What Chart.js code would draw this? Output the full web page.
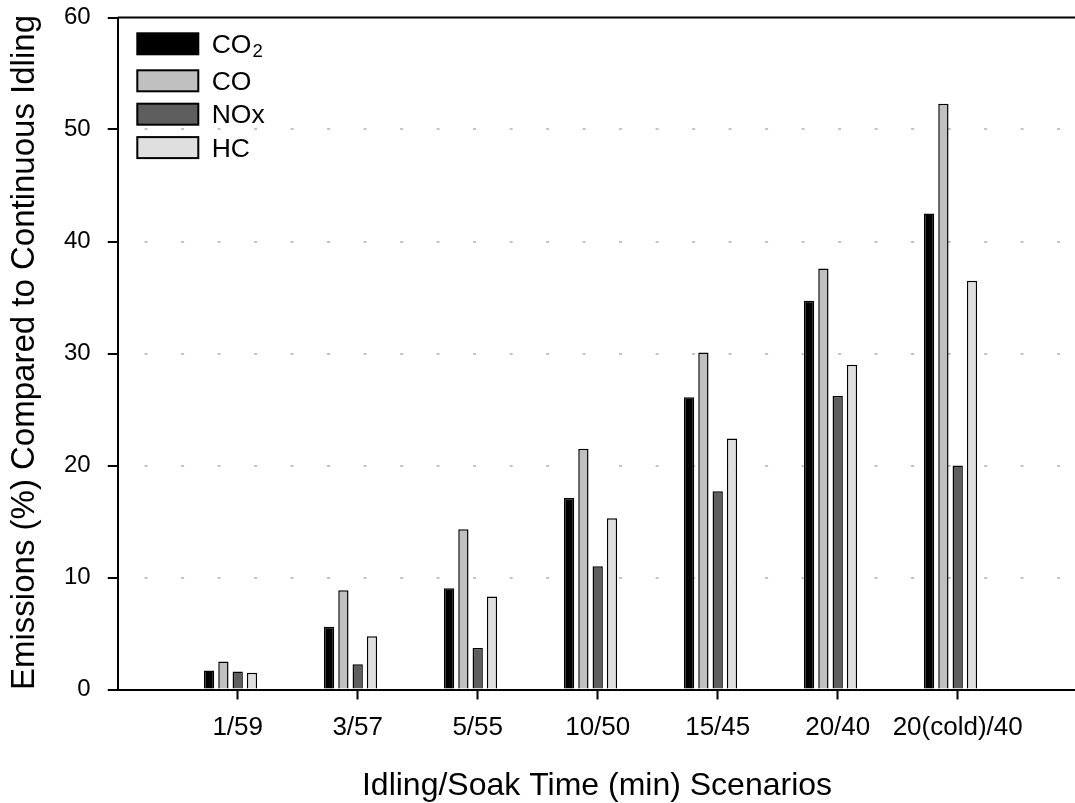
<!DOCTYPE html>
<html>
<head>
<meta charset="utf-8">
<script src="https://cdn.jsdelivr.net/npm/chart.js@4.4.1/dist/chart.umd.min.js"></script>
<style>
  html, body { margin: 0; padding: 0; background: #ffffff; }
  #wrap { width: 1075px; height: 803px; position: relative; }
</style>
</head>
<body>
<div id="wrap"><canvas id="c" width="1075" height="803"></canvas></div>
<script>
// Idling / soak scenarios and emissions relative to continuous idling (%)
const scenarios = ['1/59', '3/57', '5/55', '10/50', '15/45', '20/40', '20(cold)/40'];
const co2 = [1.7, 5.6, 9.05, 17.1, 26.1, 34.7, 42.5];
const co  = [2.5, 8.87, 14.3, 21.5, 30.1, 37.6, 52.3];
const nox = [1.6, 2.26, 3.7, 11.0, 17.7, 26.2, 20.0];
const hc  = [1.5, 4.76, 8.3, 15.3, 22.4, 29.0, 36.5];

// Series names: text after "_" is drawn as a subscript
const seriesNames  = ['CO_2', 'CO', 'NOx', 'HC'];
const seriesColors = ['#000000', '#c0c0c0', '#5e5e5e', '#dfdfdf'];
const seriesValues = [co2, co, nox, hc];

const yMin = 0, yMax = 60, yStep = 10;
const xTitle = 'Idling/Soak Time (min) Scenarios';
const yTitle = 'Emissions (%) Compared to Continuous Idling';

const FONT = '"Liberation Sans", Arial, Helvetica, sans-serif';

const datasets = seriesValues.map((vals, k) => ({
  label: seriesNames[k].replace('_', ''),
  data: vals.map((v, i) => ({ x: i + 1, y: v })),
  backgroundColor: seriesColors[k],
  borderColor: '#000000',
  borderWidth: 1.5,
  borderSkipped: 'start'
}));
// empty fifth slot in each group, so the group sits like the original layout
datasets.push({
  label: '',
  data: scenarios.map((_, i) => ({ x: i + 1, y: null })),
  backgroundColor: 'rgba(0,0,0,0)',
  borderWidth: 0
});

const decor = {
  id: 'decor',
  afterDraw(chart) {
    const { ctx, chartArea } = chart;
    const W = chart.width;
    ctx.save();
    // top frame line
    ctx.strokeStyle = '#000';
    ctx.lineWidth = 2;
    ctx.beginPath();
    ctx.moveTo(chartArea.left, chartArea.top);
    ctx.lineTo(W, chartArea.top);
    ctx.stroke();

    // legend
    const bx = 137.3, bw = 61, bh = 21, tx = 211.7;
    let cy = 43.8;
    seriesNames.forEach((name, k) => {
      const parts = name.split('_');
      ctx.fillStyle = seriesColors[k];
      ctx.fillRect(bx, cy - bh / 2, bw, bh);
      ctx.strokeStyle = '#000';
      ctx.lineWidth = 2;
      ctx.strokeRect(bx, cy - bh / 2, bw, bh);
      ctx.fillStyle = '#000';
      ctx.font = '26.5px ' + FONT;
      ctx.textAlign = 'left';
      ctx.textBaseline = 'alphabetic';
      const base = cy + 9;
      ctx.fillText(parts[0], tx, base);
      if (parts[1]) {
        const w = ctx.measureText(parts[0]).width;
        ctx.font = '18.5px ' + FONT;
        ctx.fillText(parts[1], tx + w + 1, base + 4);
      }
      cy += 33.4 + (parts[1] ? 3.6 : 0);
    });

    // axis titles
    ctx.fillStyle = '#000';
    ctx.font = '32px ' + FONT;
    ctx.textAlign = 'center';
    ctx.textBaseline = 'alphabetic';
    ctx.fillText(xTitle, 597, 795);
    ctx.font = '33px ' + FONT;
    ctx.translate(33.5, 352.5);
    ctx.rotate(-Math.PI / 2);
    ctx.fillText(yTitle, 0, 0);
    ctx.restore();
  }
};

new Chart(document.getElementById('c'), {
  type: 'bar',
  data: { datasets },
  plugins: [decor],
  options: {
    responsive: false,
    devicePixelRatio: 1,
    animation: false,
    layout: { padding: { top: 17.5, left: 0, right: 0, bottom: 0 } },
    datasets: { bar: { categoryPercentage: 0.596, barPercentage: 0.72 } },
    plugins: { legend: { display: false }, tooltip: { enabled: false } },
    scales: {
      x: {
        type: 'linear',
        offset: false,
        min: 0,
        max: 7.9775,
        afterBuildTicks: s => { s.ticks = scenarios.map((_, i) => ({ value: i + 1 })); },
        afterFit: s => { s.height = 113.5; s.paddingLeft = 0; s.paddingRight = 0; },
        grid: {
          offset: false,
          drawOnChartArea: false,
          drawTicks: true,
          tickLength: 10,
          tickColor: '#000',
          tickWidth: 2
        },
        border: { display: true, color: '#000', width: 2 },
        ticks: {
          autoSkip: false,
          maxRotation: 0,
          padding: 13,
          color: '#000',
          font: { family: FONT, size: 26 },
          callback: (v, i) => scenarios[i]
        }
      },
      y: {
        min: yMin,
        max: yMax,
        afterFit: s => { s.width = 117.7; s.paddingTop = 0; s.paddingBottom = 0; },
        grid: {
          color: c => (c.tick && (c.tick.value === yMin || c.tick.value === yMax)) ? 'rgba(0,0,0,0)' : '#c4c4c4',
          lineWidth: 2,
          drawTicks: true,
          tickLength: 10,
          tickColor: '#000',
          tickWidth: 2
        },
        border: { display: true, color: '#000', width: 2, dash: [3, 33.5], dashOffset: 10.9 },
        ticks: {
          stepSize: yStep,
          padding: 17,
          color: '#000',
          font: { family: FONT, size: 24 }
        }
      }
    }
  }
});
</script>
</body>
</html>
